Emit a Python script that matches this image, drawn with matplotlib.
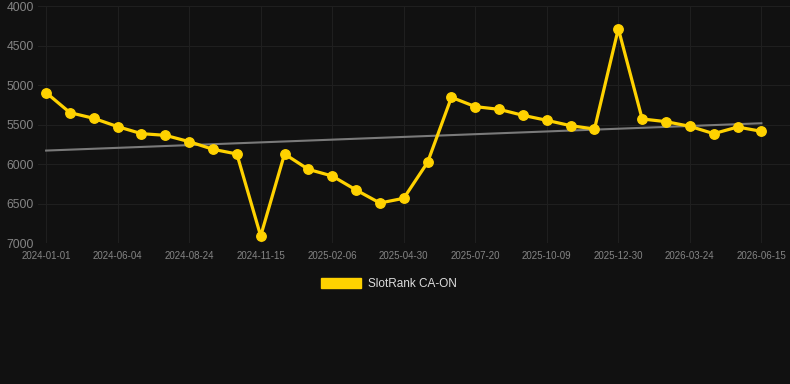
import numpy as np
import matplotlib
matplotlib.use("Agg")
import matplotlib.pyplot as plt
from matplotlib.patches import Patch

# --- DATA ---

TICK_LABELS = [
    "2024-01-01", "2024-06-04", "2024-08-24", "2024-11-15", "2025-02-06",
    "2025-04-30", "2025-07-20", "2025-10-09", "2025-12-30", "2026-03-24",
    "2026-06-15",
]

RANKS = [
    5097, 5350, 5422, 5527, 5616, 5637, 5717, 5814, 5873, 6911,
    5873, 6068, 6152, 6329, 6494, 6434, 5979, 5156, 5274, 5308,
    5384, 5447, 5515, 5557, 4287, 5430, 5464, 5523, 5616, 5532,
    5586,
]

SERIES_NAME = "SlotRank CA-ON"

BG = "#111111"
GOLD = "#FFD200"

# --- PLOTTING ---

plt.rcParams["font.family"] = ["Liberation Sans", "DejaVu Sans"]

fig = plt.figure(figsize=(7.9, 3.84), dpi=100, facecolor=BG)
ax = fig.add_axes([38 / 790, 1 - 243 / 384, 1 - 38 / 790, (243 - 6) / 384])
ax.set_facecolor(BG)

x = np.arange(len(RANKS))
y = np.array(RANKS)

# trend line (least squares)
slope, intercept = np.polyfit(x, y, 1)
ax.plot(x, slope * x + intercept, color="#7a7a7a", lw=1.5, zorder=2)

ax.plot(x, y, color=GOLD, lw=2.3, marker="o", markersize=6.8, zorder=3)

ax.set_ylim(7000, 4000)
ax.set_yticks([4000, 4500, 5000, 5500, 6000, 6500, 7000])
ax.set_xlim(-0.34, 31.2)
ax.set_xticks(x[::3])
ax.set_xticklabels(TICK_LABELS)

ax.tick_params(axis="y", colors="#858585", labelsize=8.7, length=0, pad=3)
ax.tick_params(axis="x", colors="#858585", labelsize=7, length=0, pad=6)
ax.grid(True, color="#1f1f1f", lw=0.8)
for s in ax.spines.values():
    s.set_visible(False)

handle = Patch(facecolor=GOLD, edgecolor=GOLD)
fig.legend([handle], [SERIES_NAME], loc="center",
           bbox_to_anchor=(389 / 790, 1 - 284 / 384), frameon=False,
           fontsize=8.5, labelcolor="#dddddd", handlelength=3.4,
           handleheight=1.0, handletextpad=0.6)

fig.savefig("out.png", dpi=100, facecolor=BG)
